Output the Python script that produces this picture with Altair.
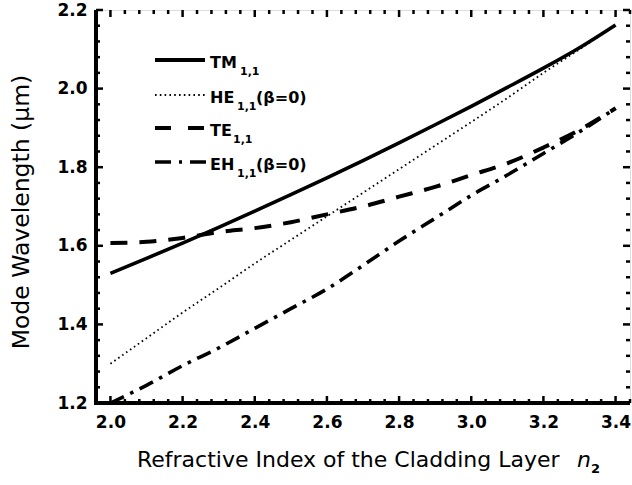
import altair as alt
import pandas as pd
import numpy as np

# ---------------- data ----------------
n2 = [2.0, 2.1, 2.2, 2.3, 2.4, 2.5, 2.6, 2.7, 2.8, 2.9, 3.0, 3.1, 3.2, 3.3, 3.4]
tm = [1.53, 1.568, 1.607, 1.647, 1.688, 1.73, 1.773, 1.817, 1.862, 1.908, 1.955, 2.003, 2.052, 2.104, 2.162]
he = [1.30, 1.365, 1.43, 1.492, 1.555, 1.615, 1.675, 1.735, 1.795, 1.855, 1.915, 1.976, 2.04, 2.10, 2.162]
te = [1.607, 1.61, 1.62, 1.635, 1.645, 1.66, 1.68, 1.70, 1.725, 1.75, 1.78, 1.81, 1.85, 1.895, 1.95]
eh = [1.20, 1.245, 1.295, 1.34, 1.39, 1.44, 1.49, 1.55, 1.612, 1.67, 1.728, 1.78, 1.835, 1.89, 1.95]

x_major = [2.0, 2.2, 2.4, 2.6, 2.8, 3.0, 3.2, 3.4]
y_major = [1.2, 1.4, 1.6, 1.8, 2.0, 2.2]
x_minor = [float(v) for v in np.round(np.arange(1.96, 3.4401, 0.04), 2) if float(v) not in x_major]
y_minor = [float(v) for v in np.round(np.arange(1.2, 2.2001, 0.04), 2) if float(v) not in y_major]

W, H = 534, 393
FONT = "DejaVu Sans"

xs = alt.Scale(domain=[1.96, 3.44], nice=False, zero=False)
ys = alt.Scale(domain=[1.2, 2.2], nice=False, zero=False)
xaxis = alt.Axis(values=x_major, format=".1f", ticks=False, domain=False, grid=False,
                 labelFont=FONT, labelFontWeight="bold", labelFontSize=17, labelColor="black",
                 labelPadding=11, title=None)
yaxis = alt.Axis(values=y_major, format=".1f", ticks=False, domain=False, grid=False,
                 labelFont=FONT, labelFontWeight="bold", labelFontSize=17, labelColor="black",
                 labelPadding=9, title=None)
X = alt.X("x:Q", scale=xs, axis=xaxis)
Y = alt.Y("y:Q", scale=ys, axis=yaxis)


def series(vals, dash, width):
    df = pd.DataFrame({"x": n2, "y": vals})
    kw = dict(color="black", strokeWidth=width, strokeCap="butt", clip=True, interpolate="monotone")
    if dash:
        kw["strokeDash"] = dash
    return alt.Chart(df).mark_line(**kw).encode(x=X, y=Y)


lines = [
    series(he, [1.6, 3.2], 1.8),
    series(eh, [15, 7, 3.5, 7], 3.6),
    series(te, [17, 12], 4),
    series(tm, None, 3.6),
]

# ---------------- ticks (inward on all four sides) ----------------
dxmaj = pd.DataFrame({"x": x_major})
dxmin = pd.DataFrame({"x": x_minor})
dymaj = pd.DataFrame({"y": y_major})
dymin = pd.DataFrame({"y": y_minor})

ticks = []
for d, ln in ((dxmaj, 7), (dxmin, 4)):
    ticks.append(alt.Chart(d).mark_rule(color="black", strokeWidth=2.5).encode(
        x=X, y=alt.value(H), y2=alt.value(H - ln)))
    ticks.append(alt.Chart(d).mark_rule(color="black", strokeWidth=2.5).encode(
        x=X, y=alt.value(0), y2=alt.value(ln)))
for d, ln in ((dymaj, 7), (dymin, 4)):
    ticks.append(alt.Chart(d).mark_rule(color="black", strokeWidth=2.5).encode(
        y=Y, x=alt.value(0), x2=alt.value(ln)))
    ticks.append(alt.Chart(d).mark_rule(color="black", strokeWidth=2.5).encode(
        y=Y, x=alt.value(W), x2=alt.value(W - ln)))

frame = [
    alt.Chart(dxmaj).mark_rule(color="black", strokeWidth=3.5).encode(
        x=alt.value(0), y=alt.value(0), y2=alt.value(H + 1.5)),
    alt.Chart(dxmaj).mark_rule(color="black", strokeWidth=3.5).encode(
        x=alt.value(-1.5), x2=alt.value(W), y=alt.value(H)),
]

# ---------------- legend (inside, top-left) ----------------
one = pd.DataFrame({"k": [0]})
leg_y = [50, 85, 118, 152]
legend = [
    alt.Chart(one).mark_rule(color="black", strokeWidth=4, strokeCap="butt").encode(
        x=alt.value(59), x2=alt.value(109), y=alt.value(leg_y[0])),
    alt.Chart(one).mark_rule(color="black", strokeWidth=1.8, strokeDash=[1.6, 3.2], strokeCap="butt").encode(
        x=alt.value(59), x2=alt.value(109), y=alt.value(leg_y[1])),
    alt.Chart(one).mark_rule(color="black", strokeWidth=4, strokeDash=[16, 17], strokeCap="butt").encode(
        x=alt.value(59), x2=alt.value(109), y=alt.value(leg_y[2])),
    alt.Chart(one).mark_rule(color="black", strokeWidth=3.6, strokeDash=[16, 8, 3, 8], strokeCap="butt").encode(
        x=alt.value(59), x2=alt.value(110), y=alt.value(leg_y[3])),
]
main_lbl = ["TM", "HE", "TE", "EH"]
sub_x = [144, 141, 137, 141]
for i, t in enumerate(main_lbl):
    legend.append(alt.Chart(one).mark_text(text=t, font=FONT, fontSize=16, fontWeight="bold",
                                           align="left", baseline="middle", color="black").encode(
        x=alt.value(114), y=alt.value(leg_y[i] + 3)))
    legend.append(alt.Chart(one).mark_text(text="1,1", font=FONT, fontSize=11, fontWeight="bold",
                                           align="left", baseline="middle", color="black").encode(
        x=alt.value(sub_x[i]), y=alt.value(leg_y[i] + 12)))
for i in (1, 3):
    legend.append(alt.Chart(one).mark_text(text="(β=0)", font=FONT, fontSize=16, fontWeight="bold",
                                           align="left", baseline="middle", color="black").encode(
        x=alt.value(sub_x[i] + 19), y=alt.value(leg_y[i] + 3)))

# ---------------- axis titles ----------------
titles = [
    alt.Chart(one).mark_text(text="Mode Wavelength (μm)", font=FONT, fontSize=23.5, angle=270,
                             align="center", baseline="middle", color="black").encode(
        x=alt.value(-74), y=alt.value(202)),
    alt.Chart(one).mark_text(text="Refractive Index of the Cladding Layer", font=FONT, fontSize=22,
                             align="left", baseline="middle", color="black").encode(
        x=alt.value(41), y=alt.value(450)),
    alt.Chart(one).mark_text(text="n", font=FONT, fontSize=22, fontStyle="italic",
                             align="left", baseline="middle", color="black").encode(
        x=alt.value(481), y=alt.value(450)),
    alt.Chart(one).mark_text(text="2", font=FONT, fontSize=13, fontWeight="bold",
                             align="left", baseline="middle", color="black").encode(
        x=alt.value(495), y=alt.value(459)),
]

chart = alt.layer(*lines, *ticks, *frame, *legend, *titles).properties(
    width=W, height=H,
    autosize=alt.AutoSizeParams(type="none"),
    padding={"left": 96, "top": 10, "right": 2, "bottom": 82},
).configure_view(stroke="black", strokeWidth=2).configure(background="white")

chart.save("out.html", embed_options={"renderer": "svg", "actions": False})
